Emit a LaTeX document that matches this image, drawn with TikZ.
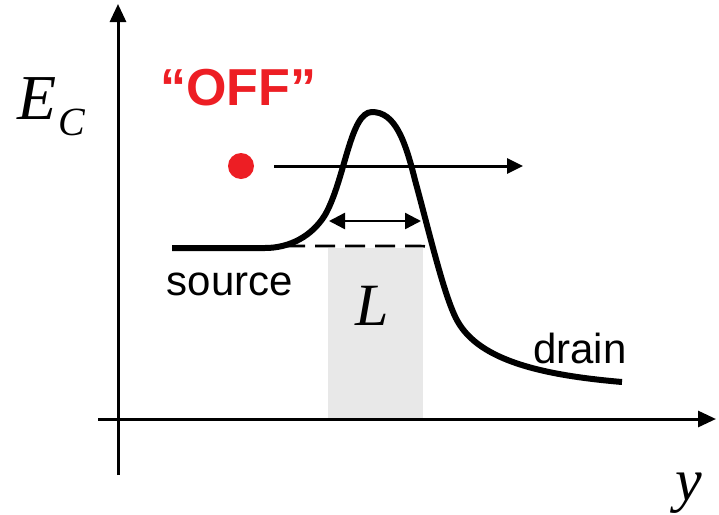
\documentclass[tikz,border=0pt]{standalone}
\usepackage{fontspec}
\setmainfont{Liberation Serif}
\setsansfont{Liberation Sans}
\usepackage{xcolor}
\definecolor{offred}{RGB}{237,30,36}
\definecolor{chgray}{RGB}{232,232,232}
\usepackage{tikz}
\usetikzlibrary{arrows.meta,positioning}

\begin{document}
\begin{tikzpicture}[x=0.5pt, y=-0.5pt,
  axis/.style={line width=1.5pt, -{Triangle[length=9pt,width=8pt]}},
  band/.style={line width=3pt, line join=round},
  lbl/.style={font=\sffamily\fontsize{21}{25}\selectfont, anchor=base, inner sep=0pt},
  sym/.style={font=\itshape\fontsize{30}{33}\selectfont, anchor=base, inner sep=0pt}
]
  \useasboundingbox (0,0) rectangle (719,515);
  % channel region under the barrier
  \fill[chgray] (328,248) rectangle (423,418);
  % axes
  \coordinate (origin) at (118,475);
  \coordinate (ytop) at (118,4);
  \coordinate (xleft) at (98,419);
  \coordinate (xright) at (716,419);
  \draw[axis] (origin) -- (ytop);
  \draw[axis] (xleft) -- (xright);
  \node[font=\itshape\fontsize{32}{36}\selectfont, anchor=base west, inner sep=0pt] (ec) at (17,119)
    {E\kern1pt\raisebox{-8pt}{\fontsize{20}{22}\selectfont C}};
  \node[sym] (ylab) at (689,500) {y};
  % conduction band edge
  \draw[band] (172,248) -- (265,248)
    .. controls (290,248) and (312,236) .. (325,215)
    .. controls (345,180) and (350,112) .. (372,112)
    .. controls (395,112) and (405,140) .. (415,180)
    .. controls (430,235) and (445,300) .. (458,322)
    .. controls (480,360) and (540,375) .. (622,382);
  \draw[line width=1.3pt, dash pattern=on 10pt off 5pt] (285,246) -- (420,246)
    .. controls (428,246) and (432,248) .. (435,252);
  % electron
  \node[circle, fill=offred, inner sep=0pt, minimum size=13pt] (dot) at (241,166) {};
  \coordinate (runend) at (523,166);
  \draw[line width=1.5pt, shorten <=10pt, -{Triangle[length=8pt,width=7.5pt]}] (dot.east) -- (runend);
  \node[font=\sffamily\bfseries\fontsize{26}{30}\selectfont, text=offred, anchor=base, inner sep=0pt] (off) at (238,105) {``OFF''};
  % channel length
  \coordinate (lleft) at (329,221);
  \coordinate (lright) at (421,221);
  \draw[line width=1.2pt, {Triangle[length=8pt,width=8pt]}-{Triangle[length=8pt,width=8pt]}] (lleft) -- (lright);
  \node[sym] (len) at (372,325) {L};
  \node[lbl] (src) at (230,295) {source};
  \node[lbl] (drn) at (580,363) {drain};
\end{tikzpicture}
\end{document}
